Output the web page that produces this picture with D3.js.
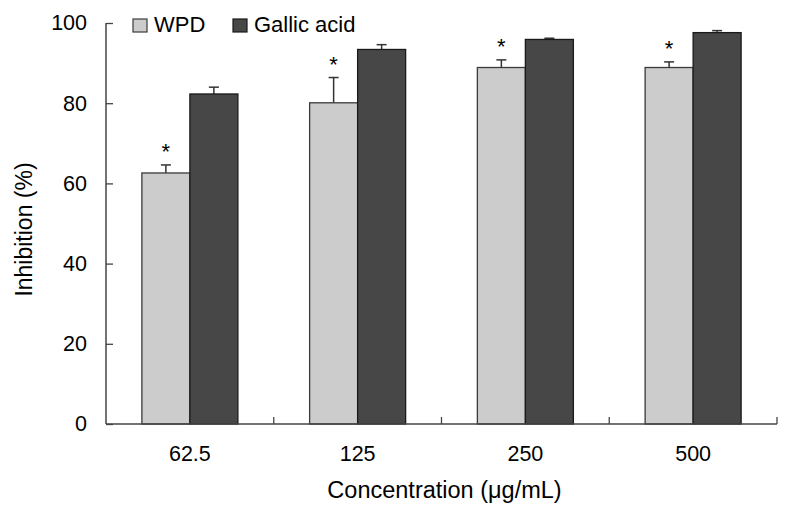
<!DOCTYPE html>
<html><head><meta charset="utf-8">
<script src="https://cdn.jsdelivr.net/npm/d3@7"></script>
<style>body{margin:0;background:#fff}svg{display:block}text{font-family:"Liberation Sans",Arial,sans-serif;fill:#000}</style>
</head><body><svg id="c" width="793" height="517"></svg>
<script>
const categories = ["62.5", "125", "250", "500"];
const seriesNames = ["WPD", "Gallic acid"];
const wpdValues = [62.6, 80.1, 88.9, 88.9];
const wpdErrors = [2.0, 6.3, 1.9, 1.4];
const gallicValues = [82.3, 93.4, 95.9, 97.6];
const gallicErrors = [1.7, 1.2, 0.3, 0.5];
const significant = [true, true, true, true];
const yTicks = [0, 20, 40, 60, 80, 100];

const colors = {"WPD": "#cccccc", "Gallic acid": "#474747"};
const strokes = {"WPD": "#3a3a3a", "Gallic acid": "#1a1a1a"};

const svg = d3.select("#c");
const L = 106, R = 777, T = 23, B = 424;
const x0 = d3.scaleBand().domain(categories).range([L, R]).paddingInner(0.4277).paddingOuter(0.2139);
const x1 = d3.scaleBand().domain(seriesNames).range([0, x0.bandwidth()]);
const y = d3.scaleLinear().domain([0, 100]).range([B, T]);

const data = categories.map((c, i) => ({
  cat: c, sig: significant[i],
  vals: [
    {s: "WPD", v: wpdValues[i], e: wpdErrors[i]},
    {s: "Gallic acid", v: gallicValues[i], e: gallicErrors[i]}
  ]
}));

// error bars (drawn under bars)
const g = svg.append("g");
data.forEach(d => {
  d.vals.forEach(b => {
    const cx = x0(d.cat) + x1(b.s) + x1.bandwidth() / 2;
    g.append("line").attr("x1", cx).attr("x2", cx).attr("y1", y(b.v)).attr("y2", y(b.v + b.e))
      .attr("stroke", "#333").attr("stroke-width", 1.5);
    g.append("line").attr("x1", cx - 5).attr("x2", cx + 5).attr("y1", y(b.v + b.e)).attr("y2", y(b.v + b.e))
      .attr("stroke", "#333").attr("stroke-width", 1.5);
  });
});
data.forEach(d => {
  d.vals.forEach(b => {
    g.append("rect")
      .attr("x", x0(d.cat) + x1(b.s)).attr("y", y(b.v))
      .attr("width", x1.bandwidth()).attr("height", y(0) - y(b.v))
      .attr("fill", colors[b.s]).attr("stroke", strokes[b.s]).attr("stroke-width", 1.3);
  });
  if (d.sig) {
    const b = d.vals[0];
    svg.append("text").attr("x", x0(d.cat) + x1(b.s) + x1.bandwidth() / 2)
      .attr("y", y(b.v + b.e) - 6).attr("text-anchor", "middle")
      .style("font-size", "22px").text("*");
  }
});

// y axis
const yAxis = d3.axisLeft(y).tickValues(yTicks).tickSize(-7).tickPadding(19);
const ya = svg.append("g").attr("transform", `translate(${L},0)`).call(yAxis);
ya.select(".domain").attr("stroke", "#444").attr("stroke-width", 1.5).attr("d", `M0,${T}V${B}`);
ya.selectAll(".tick line").attr("stroke", "#444").attr("stroke-width", 1.3);
ya.selectAll(".tick text").style("font-size", "21.5px").attr("font-family", null);

// x axis
const xAxis = d3.axisBottom(x0).tickSize(0).tickPadding(22);
const xa = svg.append("g").attr("transform", `translate(0,${B})`).call(xAxis);
xa.select(".domain").attr("stroke", "#444").attr("stroke-width", 1.5).attr("d", `M${L},0H${R}`);
xa.selectAll(".tick text").style("font-size", "21.5px").attr("font-family", null);
// category separator ticks
const seps = categories.map((c, i) => x0.step() * (i + 1) + L);
xa.selectAll(".sep").data(seps).enter().append("line").attr("class", "sep")
  .attr("x1", d => d).attr("x2", d => d).attr("y1", 0).attr("y2", -7)
  .attr("stroke", "#444").attr("stroke-width", 1.3);

// axis titles
svg.append("text").attr("x", (L + R) / 2 + 3).attr("y", 498).attr("text-anchor", "middle")
  .style("font-size", "23.5px").text("Concentration (μg/mL)");
svg.append("text").attr("transform", `translate(32,${(T + B) / 2 + 6}) rotate(-90)`)
  .attr("text-anchor", "middle").style("font-size", "23px").text("Inhibition (%)");

// legend
const leg = svg.append("g");
const legX = [133, 233];
seriesNames.forEach((s, i) => {
  leg.append("rect").attr("x", legX[i]).attr("y", 19).attr("width", 14).attr("height", 13)
    .attr("fill", colors[s]).attr("stroke", strokes[s]).attr("stroke-width", 1.2);
  leg.append("text").attr("x", legX[i] + 21).attr("y", 32).style("font-size", "22px").text(s);
});
</script></body></html>
